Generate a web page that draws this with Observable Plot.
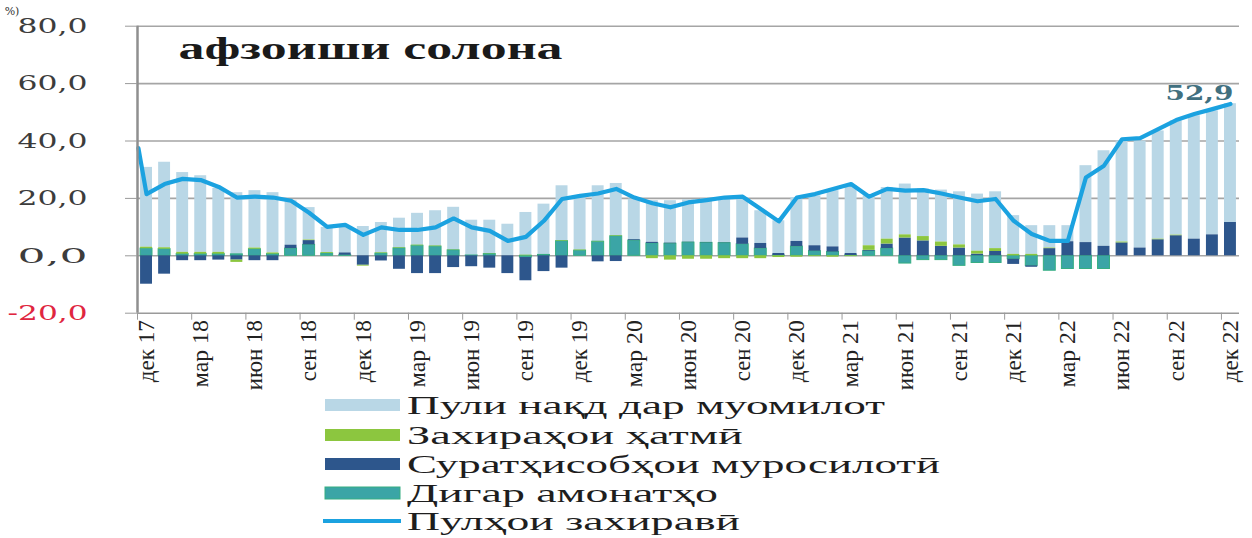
<!DOCTYPE html>
<html><head><meta charset="utf-8">
<script src="https://cdn.jsdelivr.net/npm/d3@7"></script>
<script src="https://cdn.jsdelivr.net/npm/@observablehq/plot@0.6"></script>
<style>html,body{margin:0;padding:0;background:#fff;overflow:hidden;} svg{display:block;}</style>
</head><body><div id="chart"></div>
<script>
// ---- data ----
const titleText = "афзоиши солона";
const unitText = "%)";
const tickLabels = ["дек 17","мар 18","июн 18","сен 18","дек 18","мар 19","июн 19","сен 19","дек 19","мар 20","июн 20","сен 20","дек 20","мар 21","июн 21","сен 21","дек 21","мар 22","июн 22","сен 22","дек 22"];
const seriesNames = ["Пули нақд дар муомилот","Захираҳои ҳатмӣ","Суратҳисобҳои муросилотӣ","Дигар амонатҳо","Пулҳои захиравӣ"];
const cash = [27.8,29.8,27.8,26.7,22.3,21.5,20,21,15.5,11.3, 8.8,8.9,10.2,10.6,10.3,11.1,12.3,14.9,12.3,11.7, 11,14.9,17.7,19.1,18.8,19.4,18.2,14.2,14.5,14.8, 14.8,15.2,15.8,14.1,11.4,11.4,15.3,17.4,19.6,23.6, 17.4,18,17.7,16.6,18.1,18.5,19.9,19.8,13.5,10, 7.8,5.6,26.8,33.3,35.2,37.3,37.7,39.8,43,43.2,41.4];
const required = [0.5,0.5,0.6,0.6,0.6,-0.8,0.4,0.4,0,0.2, 0.3,0,-0.3,0.2,0.2,0.2,0.2,0.1,0,0.1, 0,0.2,0,0.2,0.2,0.1,0.2,0,-1,-1.5, -1.2,-1.2,-1,-1,-1,-0.6,-0.5,-0.3,-0.5,-0.3, 1.6,1.7,1.1,1.5,1.5,1.1,1,1,0.5,0.5, 0.2,0,0,0,0.3,0,0.2,0.2,0,0,0];
const correspondent = [-9.9,-6.4,-1.7,-1.7,-1.5,-1.5,-1.7,-1.7,1.2,1.5, 0,0.8,-3.3,-1.8,-4.7,-6.2,-6.2,-4.1,-3.8,-4.3, -6.2,-8.1,-5.5,-4.3,0,-2.1,-2,0.3,0.4,0.2, 0.1,0.1,0.1,2.2,1.8,0.7,1.8,1.9,1.8,0.7, 0.3,1.6,6.2,5.2,3.3,2.7,0.6,1.5,-1.8,-0.5, 2.5,4.9,4.6,3.3,4.5,2.7,5.6,7,5.8,7.3,11.6];
const otherDeposits = [2.5,2.3,0.6,0.6,0.6,0.5,2.3,0.6,2.5,3.8, 0.8,0.2,0,0.8,2.6,3.5,3.2,1.9,0.1,0.6, 0,-0.6,0.3,5.1,1.8,4.9,6.8,5.3,4.3,4.2, 4.6,4.5,4.4,4,2.5,0.1,3.2,1.6,1.3,0.1, 1.6,2.5,-2.7,-1.5,-1.5,-3.5,-2.5,-2.5,-1.2,-3.5, -5.2,-4.6,-4.6,-4.6,0,0,0,0,0,0,0];
const reserveMoney = [21.5,25,26.8,26.4,24,20.3,20.6,20.3,19.2,15, 10.1,10.8,7.3,9.9,9,9,9.9,13,9.9,8.7, 5.2,6.6,12.2,19.8,20.9,21.7,23.3,20.3,18.3,16.9, 18.6,19.4,20.3,20.6,16.3,12,20.3,21.5,23.3,25, 20.6,23.3,22.7,22.9,21.7,20.3,19,19.8,12.2,7.6, 5.2,5.2,27.3,31.4,40.6,41,44.1,47.3,49.4,51.1,52.9];
const reserveLead = 37.5;   // value where the line enters at the left edge
const lastLabel = "52,9";
const yTicks = [-20,0,20,40,60,80];

// ---- styles ----
const colors = {cash:"#b9d7e6", required:"#8cc63f", corr:"#2d568c", other:"#3ba5a6", line:"#1ba2e0"};
const monthLen = {"дек": 62, "мар": 67, "июн": 70, "сен": 61};

// ---- build stacked rects (stack order: other, corr, required, cash) ----
const stackSeries = [["other", otherDeposits],["corr", correspondent],["required", required],["cash", cash]];
const rects = {other:[], corr:[], required:[], cash:[]};
for (let i = 0; i < cash.length; i++) {
  let pos = 0, neg = 0;
  for (const [k, arr] of stackSeries) {
    const v = arr[i];
    if (v >= 0) { rects[k].push({i, y1: pos, y2: pos + v}); pos += v; }
    else { rects[k].push({i, y1: neg, y2: neg + v}); neg += v; }
  }
}
const lineData = [{x: -0.45, y: reserveLead}].concat(reserveMoney.map((y, i) => ({x: i, y})));
const tickPos = tickLabels.map((d, k) => k * 3 - 0.5);
const labelPos = tickLabels.map((d, k) => k * 3);
const fmt = d => d.toFixed(1).replace(".", ",");
const bw = 0.33;

const rectMark = (k, extra = {}) => Plot.rectY(rects[k], {x1: d => d.i - bw, x2: d => d.i + bw, y1: "y1", y2: "y2", fill: colors[k], ...extra});

const plot = Plot.plot({
  width: 1252, height: 393,
  marginLeft: 137, marginRight: 13, marginTop: 25.7, marginBottom: 80.3,
  x: {type: "linear", domain: [-0.5, 60.5], label: null},
  y: {domain: [-20, 80], label: null},
  style: {fontFamily: "Liberation Serif", background: "#fff"},
  marks: [
    Plot.ruleY([0, 20, 40, 60, 80], {stroke: "#a5a5a5", strokeWidth: 1.6}),
    rectMark("cash"),
    rectMark("other", {stroke: "#36ae82", strokeWidth: 1}),
    rectMark("corr"),
    rectMark("required"),
    Plot.line(lineData, {x: "x", y: "y", stroke: colors.line, strokeWidth: 4.2, strokeLinejoin: "round"}),
    Plot.ruleY([-20], {stroke: "#9a9a9a", strokeWidth: 1.6}),
    Plot.ruleX([-0.5], {stroke: "#8f8f8f", strokeWidth: 2.5}),
    Plot.axisY(yTicks, {tickSize: 12, tickPadding: 38, tickFormat: fmt, fontSize: 21, fontFamily: "DejaVu Serif", stroke: "#9a9a9a", fill: "#3c3c3c", label: null}),
    Plot.axisX(tickPos, {tickSize: 7, tickFormat: () => "", stroke: "#9a9a9a", label: null}),
    Plot.axisX(labelPos, {tickSize: 0, tickRotate: -90, tickPadding: 7, tickFormat: i => tickLabels[i / 3], fontSize: 23, fill: "#222", label: null, className: "xlbl"}),
    Plot.text([{x: 60, y: reserveMoney[60]}], {x: "x", y: "y", text: () => lastLabel, textAnchor: "end", lineAnchor: "bottom", dx: 3, dy: -4, fontSize: 21, fontWeight: "bold", fontFamily: "DejaVu Serif", fill: "#41707f", className: "lastlbl"}),
    Plot.text([titleText], {frameAnchor: "top-left", dx: 41, dy: 11, fontSize: 31, fontWeight: "bold", fill: "#1a1a1a", className: "ttl"})
  ]
});

document.getElementById("chart").appendChild(plot);

// post-process text widths (the reference text is horizontally wide)
const sel = d3.select(plot);
sel.selectAll(".ttl text").attr("textLength", 384).attr("lengthAdjust", "spacingAndGlyphs");
sel.selectAll(".lastlbl text").attr("textLength", 68).attr("lengthAdjust", "spacingAndGlyphs");
sel.selectAll('g[aria-label="y-axis tick label"] text').each(function() {
  const t = d3.select(this);
  const s = t.text();
  const neg = s.startsWith("-") || s.startsWith("−");
  t.attr("textLength", neg ? 80 : 70).attr("lengthAdjust", "spacingAndGlyphs");
  if (neg) { t.attr("fill", "#e0263f"); t.text("-20,0"); }
});
sel.selectAll(".xlbl text").each(function() {
  const s = d3.select(this).text();
  const L = monthLen[s.slice(0, 3)];
  if (L) d3.select(this).attr("textLength", L).attr("lengthAdjust", "spacingAndGlyphs");
});
sel.append("text").attr("x", 12).attr("y", 15).attr("font-size", 11).attr("font-family", "DejaVu Serif").attr("fill", "#333").text(unitText);

// ---- legend ----
const legendItems = [
  {name: seriesNames[0], color: colors.cash, type: "rect", w: 478},
  {name: seriesNames[1], color: colors.required, type: "rect", w: 336},
  {name: seriesNames[2], color: colors.corr, type: "rect", w: 533},
  {name: seriesNames[3], color: colors.other, type: "rect", w: 311},
  {name: seriesNames[4], color: colors.line, type: "line", w: 333}
];
const leg = d3.create("svg").attr("width", 1252).attr("height", 145).style("background", "#fff");
const rowY = [12, 42, 71, 100, 128];
legendItems.forEach((it, k) => {
  const g = leg.append("g").attr("transform", `translate(0,${rowY[k]})`);
  if (it.type === "rect") g.append("rect").attr("x", 325).attr("y", -6).attr("width", 75).attr("height", 12).attr("fill", it.color).attr("stroke", k === 3 ? "#36ae82" : "none");
  else g.append("line").attr("x1", 323).attr("x2", 401).attr("y1", 0).attr("y2", 0).attr("stroke", it.color).attr("stroke-width", 4);
  g.append("text").attr("x", 407).attr("y", 9).attr("font-family", "Liberation Serif").attr("font-size", 25).attr("fill", "#1e1e1e")
    .attr("textLength", it.w).attr("lengthAdjust", "spacingAndGlyphs").text(it.name);
});
document.getElementById("chart").appendChild(leg.node());
</script>
</body></html>
